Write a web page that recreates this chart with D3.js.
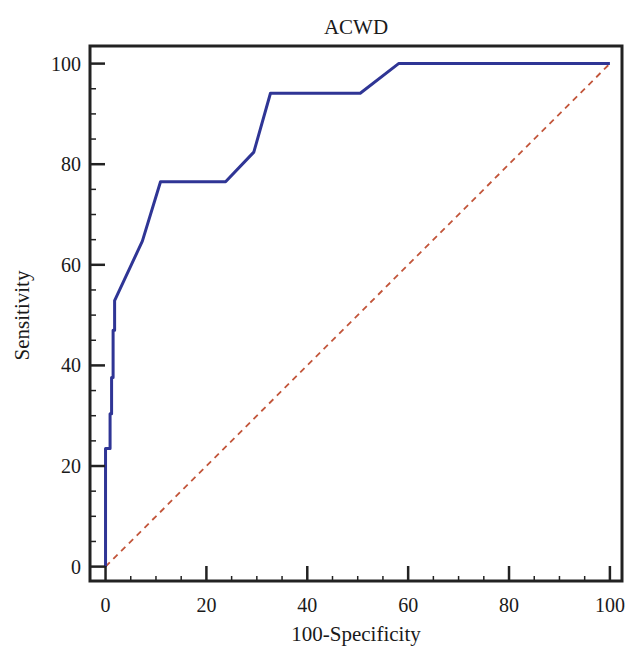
<!DOCTYPE html>
<html>
<head>
<meta charset="utf-8">
<script src="https://d3js.org/d3.v7.min.js"></script>
<style>
  body { margin: 0; background: #fff; }
  text { font-family: "Liberation Serif", "Times New Roman", serif; fill: #1a1a1a; }
</style>
</head>
<body>
<div class="roc-chart"></div>
<script>
  // ROC curve
  const fpr = [0, 0, 0.9, 0.9, 1.2, 1.2, 1.5, 1.5, 1.8, 1.8, 7.3, 10.9, 23.8, 29.4, 32.7, 50.5, 58.1, 100];
  const sens = [0, 23.5, 23.5, 30.4, 30.4, 37.6, 37.6, 47.0, 47.0, 52.9, 64.7, 76.5, 76.5, 82.4, 94.1, 94.1, 100, 100];
  const xTicks = [0, 20, 40, 60, 80, 100];
  const yTicks = [0, 20, 40, 60, 80, 100];
  const minorTicks = d3.range(5, 100, 5).filter(v => v % 20 !== 0);

  const width = 628, height = 649;
  const frame = { left: 90, right: 622, top: 46, bottom: 581 };

  const x = d3.scaleLinear().domain([-3.08, 102.4]).range([frame.left, frame.right]);
  const y = d3.scaleLinear().domain([-2.86, 103.5]).range([frame.bottom, frame.top]);

  const svg = d3.select('.roc-chart')
    .append('svg')
    .attr('width', width)
    .attr('height', height);

  // title
  svg.append('text')
    .attr('x', (frame.left + frame.right) / 2)
    .attr('y', 34)
    .attr('text-anchor', 'middle')
    .attr('font-size', '21px')
    .text('ACWD');

  // diagonal reference
  svg.append('line')
    .attr('x1', x(0)).attr('y1', y(0))
    .attr('x2', x(100)).attr('y2', y(100))
    .attr('stroke', '#c2553a')
    .attr('stroke-width', 1.8)
    .attr('stroke-dasharray', '6,5');

  // roc curve
  const line = d3.line()
    .x(d => x(d[0]))
    .y(d => y(d[1]));

  svg.append('path')
    .datum(fpr.map((v, i) => [v, sens[i]]))
    .attr('d', line)
    .attr('fill', 'none')
    .attr('stroke', '#2f3595')
    .attr('stroke-width', 3)
    .attr('stroke-linejoin', 'round');

  // ticks (pointing inward)
  const tickColor = '#222';
  svg.append('g').selectAll('line')
    .data(yTicks)
    .enter()
    .append('line')
    .attr('x1', frame.left).attr('x2', frame.left + 15)
    .attr('y1', d => y(d)).attr('y2', d => y(d))
    .attr('stroke', tickColor).attr('stroke-width', 2.5);

  svg.append('g').selectAll('line')
    .data(minorTicks)
    .enter()
    .append('line')
    .attr('x1', frame.left).attr('x2', frame.left + 6)
    .attr('y1', d => y(d)).attr('y2', d => y(d))
    .attr('stroke', tickColor).attr('stroke-width', 1.5);

  svg.append('g').selectAll('line')
    .data(xTicks)
    .enter()
    .append('line')
    .attr('x1', d => x(d)).attr('x2', d => x(d))
    .attr('y1', frame.bottom).attr('y2', frame.bottom - 15)
    .attr('stroke', tickColor).attr('stroke-width', 2.5);

  svg.append('g').selectAll('line')
    .data(minorTicks)
    .enter()
    .append('line')
    .attr('x1', d => x(d)).attr('x2', d => x(d))
    .attr('y1', frame.bottom).attr('y2', frame.bottom - 5)
    .attr('stroke', tickColor).attr('stroke-width', 1.5);

  // frame
  svg.append('rect')
    .attr('x', frame.left)
    .attr('y', frame.top)
    .attr('width', frame.right - frame.left)
    .attr('height', frame.bottom - frame.top)
    .attr('fill', 'none')
    .attr('stroke', '#222')
    .attr('stroke-width', 3);

  // tick labels
  svg.append('g').selectAll('text')
    .data(yTicks)
    .enter()
    .append('text')
    .attr('x', frame.left - 9)
    .attr('y', d => y(d))
    .attr('dy', '0.35em')
    .attr('text-anchor', 'end')
    .attr('font-size', '20px')
    .text(d => d);

  svg.append('g').selectAll('text')
    .data(xTicks)
    .enter()
    .append('text')
    .attr('x', d => x(d))
    .attr('y', 612)
    .attr('text-anchor', 'middle')
    .attr('font-size', '20px')
    .text(d => d);

  // axis titles
  svg.append('text')
    .attr('x', (frame.left + frame.right) / 2)
    .attr('y', 641)
    .attr('text-anchor', 'middle')
    .attr('font-size', '21px')
    .text('100-Specificity');

  svg.append('text')
    .attr('transform', 'translate(29,' + ((frame.top + frame.bottom) / 2 + 2) + ') rotate(-90)')
    .attr('text-anchor', 'middle')
    .attr('font-size', '21px')
    .text('Sensitivity');
</script>
</body>
</html>
